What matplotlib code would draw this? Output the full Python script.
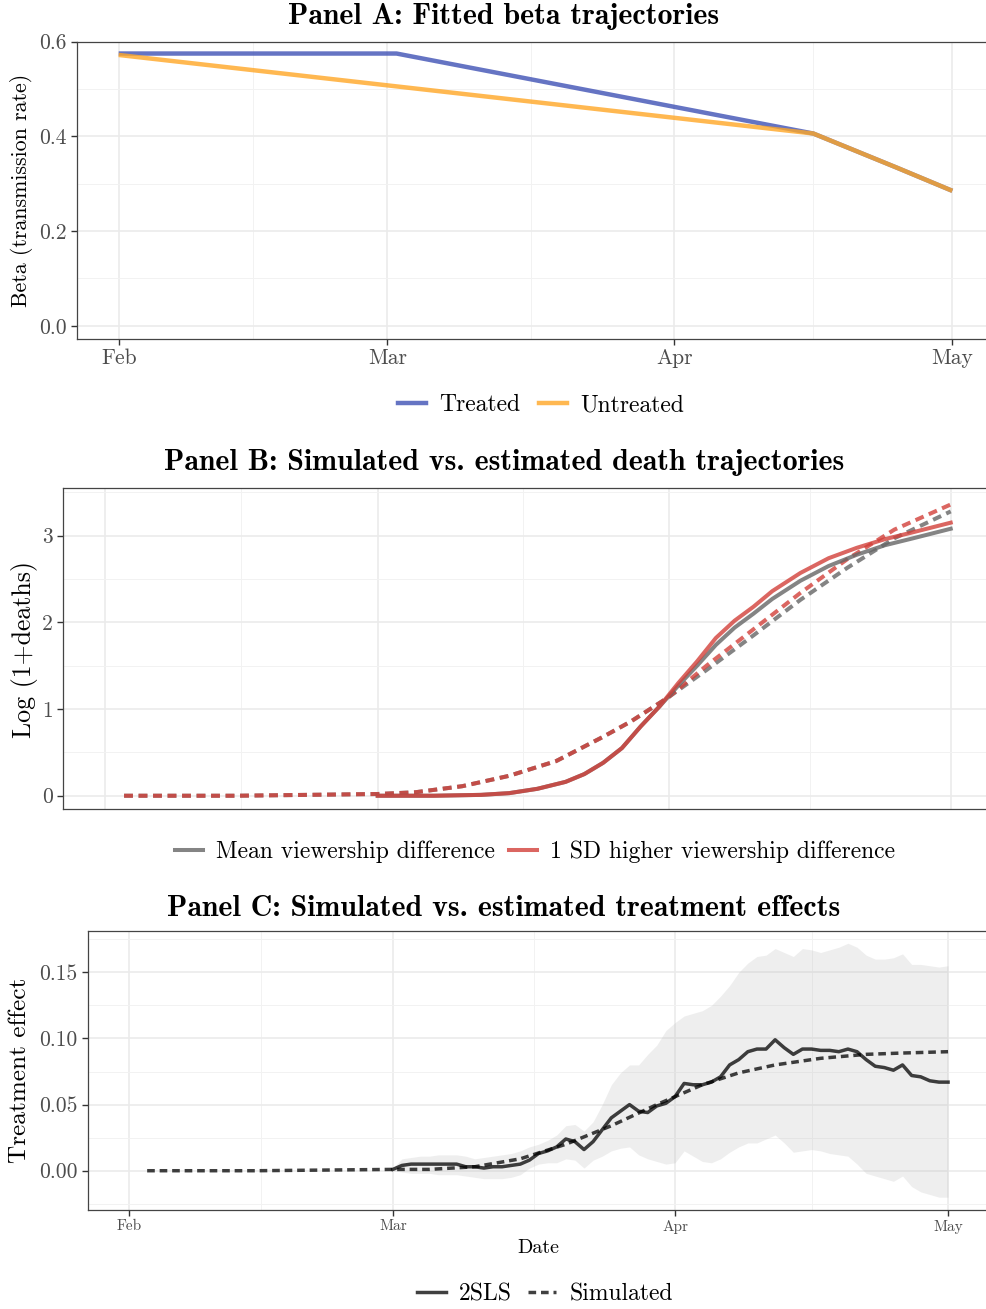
import numpy as np
import pandas as pd
import matplotlib
matplotlib.use('Agg')
import matplotlib.pyplot as plt
import matplotlib.dates as mdates
from matplotlib.lines import Line2D

plt.rcParams['font.family'] = ['cmr10', 'DejaVu Serif']
plt.rcParams['axes.formatter.use_mathtext'] = True
plt.rcParams['mathtext.fontset'] = 'cm'

# ---------------- data ----------------
# Panel A: fitted beta
beta_treated_dates = ['2020-02-01', '2020-03-02', '2020-04-16', '2020-04-20', '2020-04-25', '2020-05-01']
beta_treated = [0.575, 0.575, 0.406, 0.374, 0.334, 0.285]
beta_untreated_dates = ['2020-02-01', '2020-04-16', '2020-04-20', '2020-04-25', '2020-05-01']
beta_untreated = [0.572, 0.406, 0.374, 0.334, 0.285]

# Panel B: log(1+deaths), simulated (dashed) and estimated (solid)
sim_b_dates = ['2020-02-03', '2020-02-15', '2020-03-01', '2020-03-05', '2020-03-10', '2020-03-15',
               '2020-03-20', '2020-03-25', '2020-03-28', '2020-04-01', '2020-04-05', '2020-04-10',
               '2020-04-15', '2020-04-20', '2020-04-25', '2020-05-01']
sim_b_mean = [0, 0, 0.02, 0.04, 0.11, 0.23, 0.40, 0.68, 0.86, 1.14, 1.45, 1.85, 2.26, 2.63, 2.97, 3.28]
sim_b_high = [0, 0, 0.02, 0.04, 0.11, 0.23, 0.40, 0.68, 0.86, 1.14, 1.50, 1.92, 2.34, 2.73, 3.07, 3.36]

est_b_dates = ['2020-03-01', '2020-03-07', '2020-03-12', '2020-03-15', '2020-03-18', '2020-03-21',
               '2020-03-23', '2020-03-25', '2020-03-27', '2020-03-29', '2020-03-31', '2020-04-02',
               '2020-04-04', '2020-04-06', '2020-04-08', '2020-04-10', '2020-04-12', '2020-04-15',
               '2020-04-18', '2020-04-21', '2020-04-24', '2020-04-27', '2020-05-01']
est_b_mean = [0, 0, 0.01, 0.03, 0.08, 0.16, 0.25, 0.38, 0.55, 0.80, 1.03, 1.27, 1.50, 1.74,
              1.94, 2.10, 2.27, 2.48, 2.65, 2.78, 2.89, 2.97, 3.08]
est_b_high = [0, 0, 0.01, 0.03, 0.08, 0.16, 0.25, 0.38, 0.55, 0.80, 1.03, 1.30, 1.55, 1.82,
              2.02, 2.18, 2.36, 2.57, 2.74, 2.86, 2.96, 3.04, 3.15]

# Panel C: treatment effects
sim_c_dates = ['2020-02-03', '2020-02-15', '2020-03-01', '2020-03-05', '2020-03-10', '2020-03-15',
               '2020-03-20', '2020-03-25', '2020-03-30', '2020-04-04', '2020-04-08', '2020-04-12',
               '2020-04-17', '2020-04-22', '2020-04-26', '2020-05-01']
sim_c = [0, 0, 0.001, 0.001, 0.003, 0.009, 0.020, 0.034, 0.050, 0.065, 0.074, 0.080,
         0.085, 0.088, 0.089, 0.090]

tsls_dates = pd.date_range('2020-03-01', '2020-05-01', freq='D')
tsls = [0.001, 0.004, 0.005, 0.005, 0.005, 0.005, 0.005, 0.005, 0.003, 0.003,
        0.002, 0.003, 0.003, 0.004, 0.005, 0.008, 0.013, 0.015, 0.018, 0.024,
        0.022, 0.016, 0.022, 0.031, 0.040, 0.045, 0.050, 0.045, 0.044, 0.049,
        0.051,
        0.056, 0.066, 0.065, 0.065, 0.067, 0.071, 0.080, 0.084, 0.090, 0.092,
        0.092, 0.099, 0.093, 0.088, 0.092, 0.092, 0.091, 0.091, 0.090, 0.092,
        0.090, 0.084, 0.079, 0.078, 0.076, 0.080, 0.072, 0.071, 0.068, 0.067,
        0.067]
tsls_upper = [0.002, 0.009, 0.010, 0.011, 0.011, 0.012, 0.012, 0.012, 0.011, 0.009,
              0.010, 0.011, 0.012, 0.013, 0.015, 0.018, 0.020, 0.023, 0.027, 0.034,
              0.035, 0.030, 0.037, 0.050, 0.065, 0.074, 0.080, 0.080, 0.088, 0.095,
              0.106,
              0.112, 0.117, 0.119, 0.121, 0.125, 0.132, 0.140, 0.150, 0.157, 0.162,
              0.163, 0.168, 0.165, 0.162, 0.168, 0.167, 0.165, 0.167, 0.169, 0.172,
              0.169, 0.163, 0.160, 0.160, 0.161, 0.164, 0.156, 0.156, 0.155, 0.154,
              0.155]
tsls_lower = [0.000, -0.001, -0.002, -0.002, -0.002, -0.003, -0.003, -0.003, -0.004, -0.005,
              -0.006, -0.006, -0.006, -0.005, -0.003, 0.002, 0.005, 0.006, 0.006, 0.009,
              0.008, 0.002, 0.008, 0.011, 0.015, 0.017, 0.018, 0.012, 0.009, 0.007,
              0.005,
              0.006, 0.015, 0.011, 0.007, 0.006, 0.009, 0.014, 0.018, 0.021, 0.021,
              0.024, 0.027, 0.021, 0.014, 0.015, 0.016, 0.015, 0.013, 0.012, 0.011,
              0.005, -0.002, -0.004, -0.006, -0.008, -0.004, -0.012, -0.016, -0.018, -0.020,
              -0.020]

month_labels = ['Feb', 'Mar', 'Apr', 'May']
month_starts = ['2020-02-01', '2020-03-01', '2020-04-01', '2020-05-01']

# ---------------- style ----------------
W, H = 986, 1309
BLUE = '#3F51B5'
ORANGE = '#FFA726'
GREY = '#666666'
RED = '#D2403A'
DARK = '#000000'
LW_A, LW_B, LW_C = 3.2, 2.9, 2.5
DASH = (2.2, 1.4)

fig = plt.figure(figsize=(W / 100, H / 100), dpi=100)


def px_axes(left, top, right, bottom):
    return fig.add_axes([left / W, 1 - bottom / H, (right - left) / W, (bottom - top) / H])


def d(s):
    return mdates.date2num(pd.to_datetime(s))


def style(ax, ylim, yticks, yticklabels, yminor, xlabels=True, xfs=15.5):
    majors = d(month_starts)
    ax.set_xlim(majors[0] - 4.5, majors[-1] + 4.5)
    ax.set_xticks(majors)
    ax.set_xticks((majors[:-1] + majors[1:]) / 2, minor=True)
    ax.set_ylim(*ylim)
    ax.set_yticks(yticks)
    ax.set_yticklabels(yticklabels)
    ax.set_yticks(yminor, minor=True)
    if xlabels:
        ax.set_xticklabels(month_labels)
        ax.tick_params(axis='x', which='major', length=4, width=1, color='#333333',
                       labelsize=xfs, labelcolor='#4D4D4D', pad=3)
    else:
        ax.tick_params(axis='x', which='major', length=0, labelbottom=False)
    ax.tick_params(axis='y', which='major', length=4, width=1, color='#333333',
                   labelsize=15.5, labelcolor='#4D4D4D', pad=3.5)
    ax.tick_params(which='minor', length=0)
    ax.grid(which='major', color='#EBEBEB', lw=1.2)
    ax.grid(which='minor', color='#F2F2F2', lw=0.7)
    ax.set_axisbelow(True)
    for sp in ax.spines.values():
        sp.set_color('#444444')
        sp.set_linewidth(0.9)


def title(y, text):
    fig.text(504 / W, 1 - y / H, text, ha='center', va='center', fontsize=21.5,
             family='cmb10', color='black')


def ylab(x, y, text, size):
    fig.text(x / W, 1 - y / H, text, ha='center', va='center', rotation=90,
             fontsize=size, color='black')


# ---------------- Panel A ----------------
axA = px_axes(77, 41.7, 994, 339)
axA.plot(pd.to_datetime(beta_treated_dates), beta_treated, color=BLUE, alpha=0.8, lw=LW_A,
         solid_capstyle='butt')
axA.plot(pd.to_datetime(beta_untreated_dates), beta_untreated, color=ORANGE, alpha=0.8, lw=LW_A,
         solid_capstyle='butt')
style(axA, (-0.028, 0.6), [0, 0.2, 0.4, 0.6], ['0.0', '0.2', '0.4', '0.6'], [0.1, 0.3, 0.5])
title(16, 'Panel A: Fitted beta trajectories')
ylab(22, 190, 'Beta (transmission rate)', 15.8)
hA = [Line2D([], [], color=BLUE, alpha=0.8, lw=LW_A), Line2D([], [], color=ORANGE, alpha=0.8, lw=LW_A)]
fig.legend(hA, ['Treated', 'Untreated'], loc='center', bbox_to_anchor=(541 / W, 1 - 405 / H),
           ncol=2, frameon=False, fontsize=17, handlelength=1.2, handletextpad=0.55,
           columnspacing=0.8)

# ---------------- Panel B ----------------
axB = px_axes(63, 488, 993, 809)
axB.plot(pd.to_datetime(sim_b_dates), sim_b_mean, color=GREY, alpha=0.8, lw=LW_B, dashes=DASH)
axB.plot(pd.to_datetime(sim_b_dates), sim_b_high, color=RED, alpha=0.8, lw=LW_B, dashes=DASH)
axB.plot(pd.to_datetime(est_b_dates), est_b_mean, color=GREY, alpha=0.8, lw=LW_B)
axB.plot(pd.to_datetime(est_b_dates), est_b_high, color=RED, alpha=0.8, lw=LW_B)
style(axB, (-0.153, 3.55), [0, 1, 2, 3], ['0', '1', '2', '3'], [0.5, 1.5, 2.5, 3.5], xlabels=False)
title(463, 'Panel B: Simulated vs. estimated death trajectories')
ylab(25, 649, 'Log (1+deaths)', 18.6)
hB = [Line2D([], [], color=GREY, alpha=0.8, lw=LW_B), Line2D([], [], color=RED, alpha=0.8, lw=LW_B)]
fig.legend(hB, ['Mean viewership difference', '1 SD higher viewership difference'], loc='center',
           bbox_to_anchor=(535 / W, 1 - 852 / H), ncol=2, frameon=False, fontsize=17,
           handlelength=1.2, handletextpad=0.55, columnspacing=0.6)

# ---------------- Panel C ----------------
axC = px_axes(88, 930.7, 989, 1210)
axC.fill_between(tsls_dates, tsls_lower, tsls_upper, color='#BDBDBD', alpha=0.25, lw=0)
axC.plot(pd.to_datetime(sim_c_dates), sim_c, color=DARK, alpha=0.75, lw=LW_C, dashes=DASH)
axC.plot(tsls_dates, tsls, color=DARK, alpha=0.75, lw=LW_C)
style(axC, (-0.0297, 0.1815), [0, 0.05, 0.10, 0.15], ['0.00', '0.05', '0.10', '0.15'],
      [-0.025, 0.025, 0.075, 0.125, 0.175], xfs=11)
axC.set_xlabel('Date', fontsize=14.5, labelpad=4)
title(909, 'Panel C: Simulated vs. estimated treatment effects')
ylab(20, 1070, 'Treatment effect', 18.2)
hC = [Line2D([], [], color=DARK, alpha=0.75, lw=LW_C),
      Line2D([], [], color=DARK, alpha=0.75, lw=LW_C, dashes=DASH)]
fig.legend(hC, ['2SLS', 'Simulated'], loc='center', bbox_to_anchor=(545 / W, 1 - 1294 / H),
           ncol=2, frameon=False, fontsize=17, handlelength=1.2, handletextpad=0.55,
           columnspacing=0.7)

fig.savefig('out.png', dpi=100, facecolor='white')
